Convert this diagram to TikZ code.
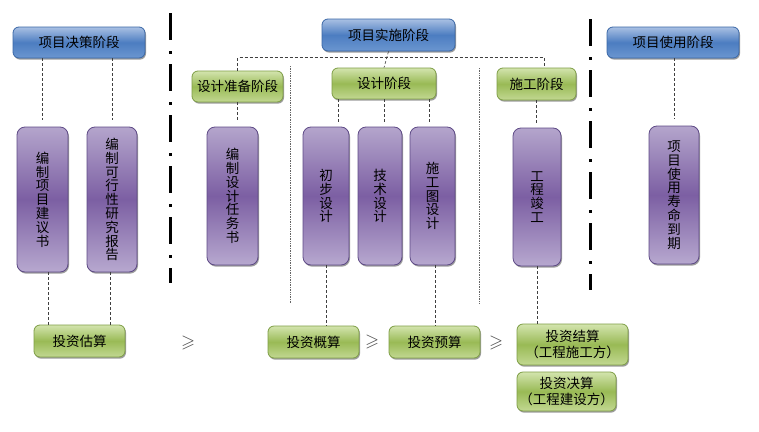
\documentclass[tikz,border=0pt]{standalone}
\usepackage{fontspec}
\usepackage{amssymb}
\newfontfamily\cjk{Noto Sans CJK SC}
\usetikzlibrary{calc,shadows}
\definecolor{bluetop}{HTML}{A9C0E3}
\definecolor{bluemid}{HTML}{4C7DC1}
\definecolor{bluebot}{HTML}{6B96D0}
\definecolor{blueline}{HTML}{3A67A6}
\definecolor{greentop}{HTML}{D3E4AE}
\definecolor{greenmid}{HTML}{99BA55}
\definecolor{greenbot}{HTML}{C2D892}
\definecolor{greenline}{HTML}{7E9E45}
\definecolor{purptop}{HTML}{B4A5CC}
\definecolor{purpmid}{HTML}{7C5FA3}
\definecolor{purpbot}{HTML}{B7A8CF}
\definecolor{purpline}{HTML}{5E4A86}
\tikzset{
  boxbase/.style={draw, line width=0.8pt, rounded corners=6pt, inner sep=0pt,
    font=\cjk\fontsize{13.5}{13.8}\selectfont, text=black, align=center,
    drop shadow={shadow xshift=1pt, shadow yshift=-1.6pt, fill=black!70, opacity=0.55}},
  bluebox/.style={boxbase, draw=blueline, top color=bluetop, bottom color=bluebot, middle color=bluemid},
  greenbox/.style={boxbase, draw=greenline, top color=greentop, bottom color=greenbot, middle color=greenmid},
  purpbox/.style={boxbase, rounded corners=8pt, draw=purpline, top color=purptop, bottom color=purpbot, middle color=purpmid},
  conn/.style={draw=black!75, line width=0.6pt, dash pattern=on 3pt off 2pt},
  sepline/.style={draw=black!60, line width=0.5pt, dash pattern=on 0.8pt off 0.9pt},
  divider/.style={draw=black, line width=3pt, dash pattern=on 27pt off 11pt on 3pt off 10pt},
  gesign/.style={font=\fontsize{18}{18}\selectfont, text=black!70, inner sep=0pt}
}
\begin{document}
\begin{tikzpicture}[x=1pt,y=-1pt]
\fill[white] (0,0) rectangle (759,431);
\useasboundingbox (0,0) rectangle (759,431);

% dividers
\coordinate (d1a) at (170,13); \coordinate (d1b) at (170,283);
\coordinate (d2a) at (590,19); \coordinate (d2b) at (590,290);
\draw[divider] (d1a) -- (d1b);
\draw[divider] (d2a) -- (d2b);

% dotted separators
\coordinate (s1a) at (290,66); \coordinate (s1b) at (290,303);
\coordinate (s2a) at (479,68); \coordinate (s2b) at (479,303);
\draw[sepline] (s1a) -- (s1b);
\draw[sepline] (s2a) -- (s2b);

% blue stage boxes
\node[bluebox, minimum width=132pt, minimum height=31pt] (B1) at (79,42.5) {项目决策阶段};
\node[bluebox, minimum width=133pt, minimum height=32pt] (B2) at (388.5,35) {项目实施阶段};
\node[bluebox, minimum width=132pt, minimum height=31pt] (B3) at (673,42.5) {项目使用阶段};

% green sub-stage boxes
\node[greenbox, minimum width=91pt, minimum height=31pt] (G1) at (237.5,86.5) {设计准备阶段};
\node[greenbox, minimum width=104pt, minimum height=31pt] (G2) at (384,83.5) {设计阶段};
\node[greenbox, minimum width=79pt, minimum height=32pt] (G3) at (536.5,84) {施工阶段};

% purple work boxes
\node[purpbox, minimum width=51pt, minimum height=145pt] (P1) at (42.5,199.5) {编\\制\\项\\目\\建\\议\\书};
\node[purpbox, minimum width=50pt, minimum height=145pt] (P2) at (112,199.5) {编\\制\\可\\行\\性\\研\\究\\报\\告};
\node[purpbox, minimum width=51pt, minimum height=138pt] (P3) at (232.5,196) {编\\制\\设\\计\\任\\务\\书};
\node[purpbox, minimum width=46pt, minimum height=138pt] (P4) at (326,196) {初\\步\\设\\计};
\node[purpbox, minimum width=44pt, minimum height=138pt] (P5) at (380,196) {技\\术\\设\\计};
\node[purpbox, minimum width=45pt, minimum height=138pt] (P6) at (432.5,196) {施\\工\\图\\设\\计};
\node[purpbox, minimum width=48pt, minimum height=138pt] (P7) at (537,197) {工\\程\\竣\\工};
\node[purpbox, minimum width=50pt, minimum height=138pt] (P8) at (674,195) {项\\目\\使\\用\\寿\\命\\到\\期};

% green estimate boxes
\node[greenbox, minimum width=91pt, minimum height=32pt] (E1) at (79.5,341) {投资估算};
\node[greenbox, minimum width=91pt, minimum height=32pt] (E2) at (313.5,342) {投资概算};
\node[greenbox, minimum width=91pt, minimum height=32pt] (E3) at (434.5,342) {投资预算};
\node[greenbox, minimum width=111pt, minimum height=41pt, font=\cjk\fontsize{13.5}{16}\selectfont] (E4) at (572.5,344.5) {投资结算\\（工程施工方）};
\node[greenbox, minimum width=99pt, minimum height=39pt, font=\cjk\fontsize{13.5}{16}\selectfont] (E5) at (566.5,391.5) {投资决算\\（工程建设方）};

% >= signs
\node[gesign] (ge1) at (188,343) {$\geqslant$};
\node[gesign] (ge2) at (372,342) {$\geqslant$};
\node[gesign] (ge3) at (496,343) {$\geqslant$};

% top connectors
\draw[conn, shorten >=7pt] (P1.north |- B1.south) -- (P1.north);
\draw[conn, shorten >=7pt] (P2.north |- B1.south) -- (P2.north);
\draw[conn, shorten >=7pt] (P8.north |- B3.south) -- (P8.north);
\draw[conn] (B2.south) -- (G2.north);
\path (G1.north) ++(0,-13) coordinate (busL);
\path ($(G3.north)+(7.5,0)$) coordinate (g3t);
\draw[conn] (G1.north) -- (busL) -| (g3t);
\draw[conn, shorten >=5pt] (G1.south) -- (G1.south |- P3.north);
\path ($(G2.south)+(-46,0)$) coordinate (g2a);
\path ($(G2.south)+(45,0)$) coordinate (g2c);
\draw[conn, shorten >=5pt] (g2a) -- (g2a |- P4.north);
\draw[conn, shorten >=5pt] (G2.south) -- (G2.south |- P5.north);
\draw[conn, shorten >=5pt] (g2c) -- (g2c |- P6.north);
\draw[conn, shorten >=5pt] (G3.south) -- (G3.south |- P7.north);

% bottom connectors
\path ($(P1.south)+(5.5,0)$) coordinate (p1b);
\path ($(P2.south)+(-2,0)$) coordinate (p2b);
\path ($(P6.south)+(2.5,0)$) coordinate (p6b);
\draw[conn] (p1b) -- (p1b |- E1.north);
\draw[conn] (p2b) -- (p2b |- E1.north);
\draw[conn] (P4.south) -- (P4.south |- E2.north);
\draw[conn] (p6b) -- (p6b |- E3.north);
\draw[conn] (P7.south) -- (P7.south |- E4.north);
\end{tikzpicture}
\end{document}
